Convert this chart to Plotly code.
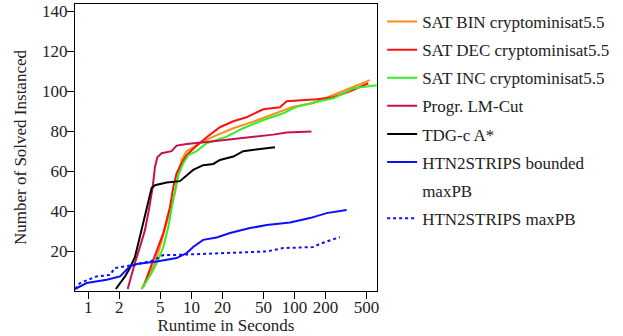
import plotly.graph_objects as go

# ---- data (runtime in seconds, number solved) ----
bin_x = [3.29, 3.67, 4.43, 4.96, 5.54, 6.20, 6.93, 7.47, 8.04, 8.99, 12.1, 16.3, 25.5, 39.9, 67.0, 97.3, 151, 238, 345, 538]
bin_y = [1, 5.6, 14, 22, 30.6, 39, 49, 59, 65.6, 70, 74, 77.3, 81.5, 84.8, 89, 92.3, 94, 98, 101.5, 105.6]

dec_x = [3.42, 4.60, 5.34, 6.20, 6.67, 7.19, 8.04, 8.99, 10.8, 14.05, 18.9, 25.5, 34.3, 49.8, 72.3, 83.9, 164, 238, 345, 520]
dec_y = [2, 20, 29, 42, 52, 59, 64, 68, 72, 77, 82, 85, 87, 91, 92, 95, 96, 97, 100, 104]

inc_x = [3.29, 4.11, 4.77, 5.34, 5.97, 6.42, 6.93, 7.47, 8.34, 9.33, 11.2, 14.05, 22.0, 31.8, 49.8, 77.8, 105, 164, 238, 372, 626]
inc_y = [1, 9, 15.6, 22, 32, 42, 50.6, 58, 64, 68, 70, 74, 77.3, 81.5, 85.6, 89, 92.3, 94.8, 96.5, 101.5, 103]

lm_x = [2.41, 2.59, 2.83, 3.17, 3.55, 3.91, 4.21, 4.43, 4.67, 5.14, 6.42, 7.19, 8.99, 14.05, 25.5, 39.9, 62.1, 83.9, 146]
lm_y = [1, 7.3, 14, 22, 30.6, 42, 52, 62, 67, 69, 70, 72.8, 73.6, 74.6, 76, 77.3, 78.3, 79.3, 79.8]

tdg_x = [1.85, 2.03, 2.27, 2.53, 2.83, 3.06, 3.29, 3.55, 3.82, 4.11, 4.43, 5.75, 7.74, 8.66, 10.4, 13.0, 16.3, 18.9, 25.5, 31.8, 42.9, 64.6]
tdg_y = [1, 4, 7.3, 11.5, 17, 24, 30.6, 39, 45.6, 51.5, 53, 54.3, 55, 57, 60.6, 63, 63.6, 65.6, 67.3, 70, 71, 72]

hb_x = [0.743, 0.963, 1.51, 2.03, 2.53, 2.95, 4.60, 7.19, 8.99, 10.4, 13.0, 17.6, 23.7, 37.0, 53.8, 90.6, 141, 205, 320]
hb_y = [1, 4, 5.6, 7.3, 12.3, 13.5, 14.8, 16.5, 19, 22, 25.6, 26.8, 29, 31.5, 33, 34.3, 36.5, 39, 40.6]

hm_x = [0.743, 0.83, 1.20, 1.62, 1.81, 2.19, 2.73, 4.27, 5.34, 6.67, 12.1, 25.5, 53.8, 77.8, 151, 176, 275]
hm_y = [1, 4, 7.3, 8, 11.5, 12.3, 13, 15.3, 18, 18, 18.6, 19, 19.8, 21.5, 22, 23.6, 27]

x_ticks = [1, 2, 5, 10, 20, 50, 100, 200, 500]
y_ticks = [20, 40, 60, 80, 100, 120, 140]

series = [
    ("SAT BIN cryptominisat5.5", bin_x, bin_y, "#ff8c1a", "solid"),
    ("SAT DEC cryptominisat5.5", dec_x, dec_y, "#ff1010", "solid"),
    ("SAT INC cryptominisat5.5", inc_x, inc_y, "#33ee22", "solid"),
    ("Progr. LM-Cut", lm_x, lm_y, "#c8104f", "solid"),
    ("TDG-c A*", tdg_x, tdg_y, "#000000", "solid"),
    ("HTN2STRIPS bounded", hb_x, hb_y, "#0a10ff", "solid"),
    ("maxPB", None, None, "rgba(0,0,0,0)", "solid"),
    ("HTN2STRIPS maxPB", hm_x, hm_y, "#0a10ff", "dot"),
]

FONT = "Liberation Serif"
fig = go.Figure()
for i, (name, xs, ys, col, dash) in enumerate(series):
    fig.add_trace(go.Scatter(
        x=xs if xs is not None else [None], y=ys if ys is not None else [None],
        mode="lines", name=name, legendgroup=f"g{i}",
        line=dict(color=col, width=2, dash=dash),
        hoverinfo="skip" if xs is None else None,
    ))

fig.update_layout(
    width=623, height=336,
    margin=dict(l=75, r=246, t=4, b=45, autoexpand=False),
    paper_bgcolor="white", plot_bgcolor="white",
    font=dict(family=FONT, size=17, color="#222222"),
    showlegend=True,
    legend=dict(x=1.017, y=1.0, xanchor="left", yanchor="top",
                font=dict(family=FONT, size=17, color="#222222"),
                tracegroupgap=3, itemwidth=30, bgcolor="rgba(0,0,0,0)"),
    xaxis=dict(type="log", range=[-0.129, 2.80], tickvals=x_ticks,
               ticktext=[str(v) for v in x_ticks], automargin=False,
               ticks="outside", ticklen=7, tickcolor="black",
               ticklabelstandoff=-7,
               tickfont=dict(family=FONT, size=17),
               showline=True, linecolor="black", linewidth=1.2, mirror=True,
               showgrid=False, zeroline=False,
               title=dict(text="Runtime in Seconds", standoff=2,
                          font=dict(family=FONT, size=17))),
    yaxis=dict(range=[0, 143.7], tickvals=y_ticks, automargin=False,
               ticks="outside", ticklen=7, tickcolor="black",
               ticklabelstandoff=-4,
               tickfont=dict(family=FONT, size=17),
               showline=True, linecolor="black", linewidth=1.2, mirror=True,
               showgrid=False, zeroline=False,
               title=dict(text="Number of Solved Instanced", standoff=11,
                          font=dict(family=FONT, size=17))),
)

fig.write_html("out.html", config={"displayModeBar": False},
               post_script="document.body.style.margin='0';")
